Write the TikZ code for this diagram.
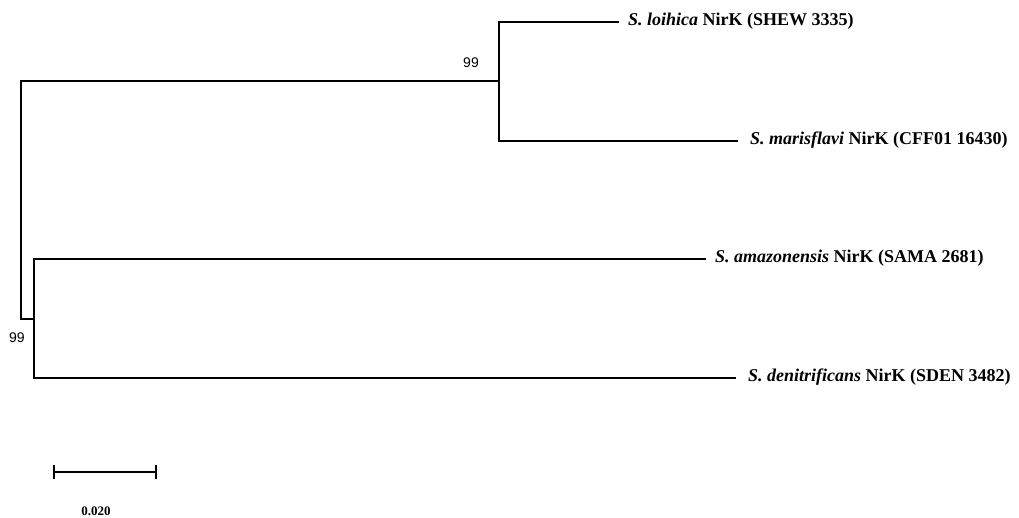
\documentclass[tikz,border=0pt]{standalone}
\usepackage{fontspec}
\setmainfont{Liberation Serif}
\newfontfamily\bootfont{Liberation Sans}
\begin{document}
\begin{tikzpicture}[x=1pt,y=-1pt,
  branch/.style={line width=1.7pt, line cap=rect},
  leaf/.style={anchor=west, inner sep=0pt, font=\fontsize{18}{20}\selectfont\bfseries},
  boot/.style={inner sep=0pt, font=\bootfont\fontsize{14}{16}\selectfont},
  scalelbl/.style={inner sep=0pt, font=\fontsize{13}{15}\selectfont\bfseries}]
\useasboundingbox (0,0) rectangle (1019,517);
% internal nodes
\coordinate (root) at (21,81);
\coordinate (rootlow) at (21,319);
\coordinate (nA) at (499,81);
\coordinate (nB) at (34,319);
% leaves
\coordinate (l1) at (618,22);
\coordinate (l2) at (737,141);
\coordinate (l3) at (705,259);
\coordinate (l4) at (735,378);
\node[leaf] (t1) at (628,21) {\textit{S. loihica} NirK (SHEW 3335)};
\node[leaf] (t2) at (750,140) {\textit{S. marisflavi} NirK (CFF01 16430)};
\node[leaf] (t3) at (715,258) {\textit{S. amazonensis} NirK (SAMA 2681)};
\node[leaf] (t4) at (748,377) {\textit{S. denitrificans} NirK (SDEN 3482)};
% branches
\draw[branch] (root) -- (rootlow) -- (nB);
\draw[branch] (root) -- (nA);
\draw[branch] (l1) -| (nA) |- (l2);
\draw[branch] (l3) -| (nB) |- (l4);
% bootstrap values
\node[boot] (b1) at (471,63) {99};
\node[boot] (b2) at (17,338) {99};
% scale bar
\coordinate (s1) at (54,472);
\coordinate (s2) at (156,472);
\draw[line width=1.7pt] (s1) -- (s2);
\draw[line width=1.7pt] ([yshift=-7pt]s1) -- ([yshift=7pt]s1);
\draw[line width=1.7pt] ([yshift=-7pt]s2) -- ([yshift=7pt]s2);
\node[scalelbl] (sl) at (96,511) {0.020};
\end{tikzpicture}
\end{document}
